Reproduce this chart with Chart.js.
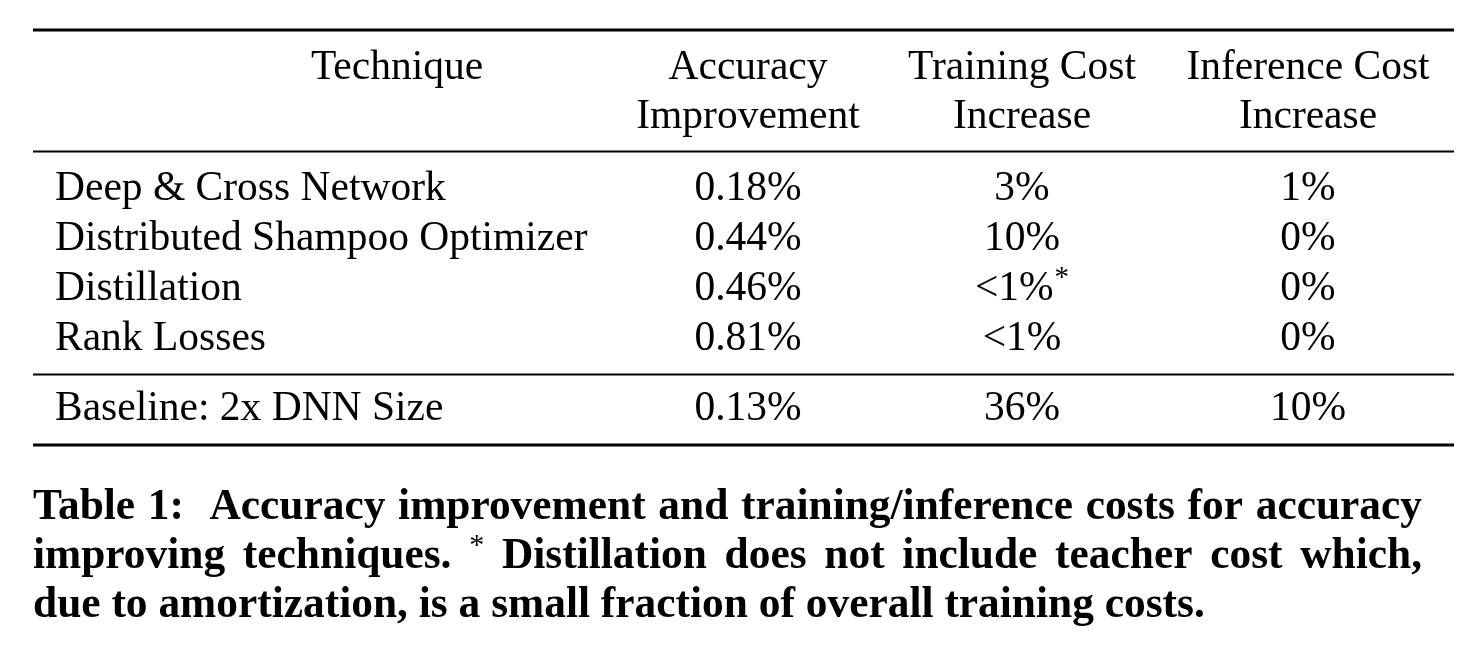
<!DOCTYPE html>
<html>
<head>
<meta charset="utf-8">
<title>Table 1</title>
<script src="https://cdn.jsdelivr.net/npm/chart.js@4.4.1/dist/chart.umd.min.js"></script>
<style>
  html, body { margin: 0; padding: 0; background: #fff; }
  #wrap { width: 1474px; height: 650px; position: relative; }
</style>
</head>
<body>
<div id="wrap"><canvas id="tbl" width="1474" height="650"></canvas></div>
<script>
  // table contents
  const headers = [
    ["Technique"],
    ["Accuracy", "Improvement"],
    ["Training Cost", "Increase"],
    ["Inference Cost", "Increase"],
  ];
  const techniques = ["Deep & Cross Network", "Distributed Shampoo Optimizer", "Distillation", "Rank Losses"];
  const accuracyImprovement = ["0.18%", "0.44%", "0.46%", "0.81%"];
  const trainingCostIncrease = ["3%", "10%", "<1%*", "<1%"];
  const inferenceCostIncrease = ["1%", "0%", "0%", "0%"];
  const baselineRow = ["Baseline: 2x DNN Size", "0.13%", "36%", "10%"];
  const captionLines = [
    "Table 1:  Accuracy improvement and training/inference costs for accuracy",
    "improving techniques. * Distillation does not include teacher cost which,",
    "due to amortization, is a small fraction of overall training costs.",
  ];

  // layout in scale units (1 unit = 1 px of the 1474x650 frame)
  const L = {
    colX: [55, 748, 1022, 1308],
    headX0: 397,
    headY: [79, 128],
    rowY: [200, 250, 300, 350],
    baseY: 420,
    rules: [[30, 3], [151.5, 2], [374.5, 2], [445, 3]],
    ruleX: [33, 1454],
    capX: [33, 1422],
    capY: [519, 568, 617],
  };

  const SERIF = '"Liberation Serif", "DejaVu Serif", serif';
  const FS = 41.5;
  let CAP_FS = 40;

  const drawCell = (ctx, text, x, y, align) => {
    let sup = "";
    if (text.endsWith("*")) { sup = "*"; text = text.slice(0, -1); }
    ctx.font = `${FS}px ${SERIF}`;
    const w = ctx.measureText(text).width;
    ctx.font = `${Math.round(FS * 0.7)}px ${SERIF}`;
    const sw = sup ? ctx.measureText(sup).width + 1 : 0;
    const left = align === "center" ? x - (w + sw) / 2 : x;
    ctx.textAlign = "left";
    ctx.font = `${FS}px ${SERIF}`;
    ctx.fillText(text, left, y);
    if (sup) {
      ctx.font = `${Math.round(FS * 0.7)}px ${SERIF}`;
      ctx.fillText(sup, left + w + 1, y - 14);
    }
  };

  // bold caption line, spread to the full width unless it is the last line
  const drawJustified = (ctx, line, x0, x1, y, justify) => {
    const parts = line.split(/( +)/).filter((s) => s.length)
      .map((w) => (/^ +$/.test(w) ? { gap: w.length } : { text: w }));
    const sz = CAP_FS;
    const supFont = `${Math.round(sz * 0.7)}px ${SERIF}`;
    const boldFont = `bold ${sz}px ${SERIF}`;
    const widthOf = (p) => {
      ctx.font = p.text === "*" ? supFont : boldFont;
      return ctx.measureText(p.text).width;
    };
    ctx.font = boldFont;
    const spaceW = ctx.measureText(" ").width;
    let textW = 0, gapUnits = 0;
    parts.forEach((p) => { if (p.text) textW += widthOf(p); else gapUnits += p.gap; });
    const gw = justify ? (x1 - x0 - textW) / gapUnits : spaceW;
    let x = x0;
    parts.forEach((p) => {
      if (!p.text) { x += gw * p.gap; return; }
      const w = widthOf(p);
      ctx.fillText(p.text, x, p.text === "*" ? y - 14 : y);
      x += w;
    });
  };

  const tablePlugin = {
    id: "tablePlugin",
    afterDraw(chart) {
      const { ctx, scales: { x, y } } = chart;
      const px = (v) => x.getPixelForValue(v);
      const py = (v) => y.getPixelForValue(v);
      ctx.save();
      ctx.fillStyle = "#000";
      ctx.textBaseline = "alphabetic";

      // booktabs-style rules
      ctx.strokeStyle = "#000";
      L.rules.forEach(([ry, lw]) => {
        ctx.lineWidth = lw;
        ctx.beginPath();
        ctx.moveTo(px(L.ruleX[0]), py(ry));
        ctx.lineTo(px(L.ruleX[1]), py(ry));
        ctx.stroke();
      });

      // header
      headers.forEach((lines, c) => {
        const cx = c === 0 ? L.headX0 : L.colX[c];
        lines.forEach((t, i) => drawCell(ctx, t, px(cx), py(L.headY[i]), "center"));
      });

      // body
      const cols = [techniques, accuracyImprovement, trainingCostIncrease, inferenceCostIncrease];
      techniques.forEach((_, r) => {
        cols.forEach((col, c) => drawCell(ctx, col[r], px(L.colX[c]), py(L.rowY[r]), c === 0 ? "left" : "center"));
      });
      baselineRow.forEach((t, c) => drawCell(ctx, t, px(L.colX[c]), py(L.baseY), c === 0 ? "left" : "center"));

      // caption: fit so the last line ends where it does in the paper
      ctx.font = `bold 40px ${SERIF}`;
      const natural = ctx.measureText(captionLines[2]).width;
      CAP_FS = Math.min(44, 40 * 1172 / natural);
      captionLines.forEach((line, i) => {
        drawJustified(ctx, line, px(L.capX[0]), px(L.capX[1]), py(L.capY[i]), i < 2);
      });
      ctx.restore();
    },
  };

  new Chart(document.getElementById("tbl"), {
    type: "scatter",
    data: { datasets: [{ data: [], pointRadius: 0 }] },
    options: {
      responsive: false,
      animation: false,
      events: [],
      layout: { padding: 0 },
      plugins: { legend: { display: false }, tooltip: { enabled: false } },
      scales: {
        x: { type: "linear", min: 0, max: 1474, display: false },
        y: { type: "linear", min: 0, max: 650, reverse: true, display: false },
      },
    },
    plugins: [tablePlugin],
  });
</script>
</body>
</html>
